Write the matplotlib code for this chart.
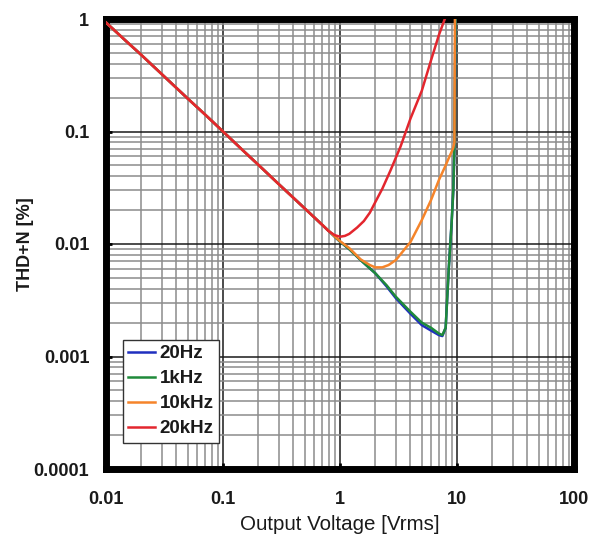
import matplotlib
matplotlib.use("Agg")
import matplotlib.pyplot as plt
from matplotlib.ticker import LogLocator, FixedLocator, NullFormatter

plt.rcParams['font.family'] = ['Liberation Sans', 'DejaVu Sans']

# ---- data ----
x_noise = [0.01, 0.015, 0.02, 0.03, 0.05, 0.07, 0.1, 0.15, 0.2, 0.3, 0.5, 0.7]
y_noise = [0.93, 0.63, 0.48, 0.323, 0.196, 0.142, 0.1, 0.067, 0.0507, 0.034, 0.0207, 0.0149]

x_20hz = x_noise + [1.0, 1.2, 1.5, 2.0, 2.5, 3.0, 4.0, 5.0, 6.0, 7.0, 7.5, 8.0, 8.5, 9.0, 9.3, 9.5, 9.7]
y_20hz = y_noise + [0.0105, 0.0090, 0.0072, 0.0055, 0.0042, 0.0033, 0.0024, 0.0019, 0.0017, 0.00155, 0.00152, 0.0018, 0.006, 0.0156, 0.03, 0.07, 1.0]

x_1khz = x_noise + [1.0, 1.2, 1.5, 2.0, 2.5, 3.0, 4.0, 5.0, 6.0, 7.0, 7.5, 8.0, 8.5, 9.0, 9.3, 9.5, 9.7]
y_1khz = y_noise + [0.0105, 0.0090, 0.0072, 0.0055, 0.0043, 0.0034, 0.0025, 0.0020, 0.0018, 0.0016, 0.00155, 0.0018, 0.006, 0.0156, 0.03, 0.07, 1.0]

x_10khz = x_noise + [1.0, 1.2, 1.5, 1.8, 2.0, 2.3, 2.6, 3.0, 4.0, 5.0, 6.0, 7.0, 8.0, 8.5, 9.0, 9.3, 9.5, 9.6]
y_10khz = y_noise + [0.0106, 0.0092, 0.0073, 0.0065, 0.0062, 0.0062, 0.0065, 0.0072, 0.0104, 0.0163, 0.0246, 0.037, 0.05, 0.058, 0.066, 0.072, 0.08, 1.0]

x_20khz = x_noise + [0.8, 0.9, 1.0, 1.1, 1.2, 1.4, 1.6, 1.8, 2.0, 2.3, 2.7, 3.3, 4.0, 5.0, 6.0, 7.0, 8.0]
y_20khz = y_noise + [0.013, 0.012, 0.0116, 0.0118, 0.0123, 0.0140, 0.016, 0.019, 0.0235, 0.031, 0.045, 0.074, 0.13, 0.23, 0.43, 0.72, 1.05]

labels = ["20Hz", "1kHz", "10kHz", "20kHz"]
colors = ["#1f2fbf", "#1f8a3a", "#f5842a", "#e3262e"]

x_ticks = [0.01, 0.1, 1, 10, 100]
x_ticklabels = ["0.01", "0.1", "1", "10", "100"]
y_ticks = [0.0001, 0.001, 0.01, 0.1, 1]
y_ticklabels = ["0.0001", "0.001", "0.01", "0.1", "1"]

# ---- figure ----
fig = plt.figure(figsize=(6.08, 5.41), dpi=100)
ax = fig.add_axes([106/608, 1 - 469/541, 468/608, 450/541])

series = [(x_20hz, y_20hz), (x_1khz, y_1khz), (x_10khz, y_10khz), (x_20khz, y_20khz)]
handles = []
for (xs, ys), lab, c in zip(series, labels, colors):
    h, = ax.plot(xs, ys, color=c, lw=1.8, label=lab, zorder=3)
    handles.append(h)

ax.set_xscale("log")
ax.set_yscale("log")
ax.set_xlim(0.01, 100)
ax.set_ylim(0.0001, 1)

ax.xaxis.set_major_locator(FixedLocator(x_ticks))
ax.yaxis.set_major_locator(FixedLocator(y_ticks))
ax.set_xticklabels(x_ticklabels)
ax.set_yticklabels(y_ticklabels)
ax.xaxis.set_minor_locator(LogLocator(base=10, subs=range(2, 10), numticks=20))
ax.yaxis.set_minor_locator(LogLocator(base=10, subs=range(2, 10), numticks=20))
ax.xaxis.set_minor_formatter(NullFormatter())
ax.yaxis.set_minor_formatter(NullFormatter())

ax.grid(which="minor", color="#8c8c8c", lw=1.1, zorder=1)
ax.grid(which="major", color="#1a1a1a", lw=1.1, zorder=1)
ax.set_axisbelow(True)

ax.tick_params(which="major", direction="in", length=4, width=2, color="black",
               labelsize=13, top=False, right=False)
ax.tick_params(axis="x", which="major", pad=16)
ax.tick_params(axis="y", which="major", pad=12)
ax.tick_params(which="minor", length=0)
for lab in ax.get_xticklabels() + ax.get_yticklabels():
    lab.set_fontweight("bold")
    lab.set_color("#1a1a1a")

for sp in ax.spines.values():
    sp.set_linewidth(5)
    sp.set_color("black")

ax.set_xlabel("Output Voltage [Vrms]", fontsize=14.8, color="#1a1a1a", labelpad=5)
ax.set_ylabel("THD+N [%]", fontsize=13, fontweight="bold", color="#1a1a1a", labelpad=0)

leg = ax.legend(handles=handles, loc="lower left", bbox_to_anchor=(0.036, 0.058),
                fancybox=False, frameon=True, edgecolor="#333333", framealpha=1,
                prop={"weight": "bold", "size": 13.5}, handlelength=1.4,
                handletextpad=0.25, labelspacing=0.42, borderpad=0.3,
                borderaxespad=0)
leg.get_frame().set_linewidth(1.0)
for t in leg.get_texts():
    t.set_color("#1a1a1a")

fig.savefig("out.png", dpi=100)
